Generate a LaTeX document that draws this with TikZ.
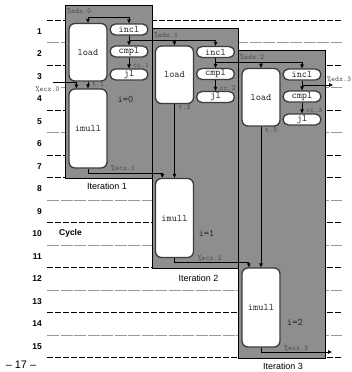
\documentclass[tikz,border=0pt]{standalone}
\usepackage{fontspec}
\setmainfont{Liberation Sans}
\usetikzlibrary{arrows.meta}
\definecolor{boxgray}{HTML}{8E8E8E}
\definecolor{edgegray}{HTML}{3C3C3C}
\newcommand\opfont{\ttfamily\fontsize{10}{11}\selectfont}
\newcommand\regfont{\ttfamily\fontsize{7.5}{8}\selectfont}
\newcommand\cycfont{\bfseries\fontsize{8.5}{10}\selectfont}
\newcommand\iterfont{\fontsize{9}{10}\selectfont}
\newcommand\pagefont{\fontsize{11}{12}\selectfont}
\tikzset{
  iterbox/.style={draw=black, line width=0.8bp, fill=boxgray, inner sep=0pt, anchor=north west},
  opbox/.style={draw=edgegray, line width=1.3bp, fill=white, rounded corners=6bp, minimum width=38bp, inner sep=0pt, font=\opfont, text=black!85},
  pill/.style={opbox, rounded corners=5.5bp, minimum height=11bp},
  conn/.style={line width=0.8bp, -{Triangle[length=4bp,width=3.5bp]}},
  reg/.style={font=\regfont, text=black!70, inner sep=0pt, anchor=west},
  cyc/.style={font=\cycfont, anchor=east, inner sep=0pt},
  gridA/.style={line width=0.6bp, dash pattern=on 6bp off 2bp},
  gridB/.style={line width=0.6bp, draw=black!40, dash pattern=on 12bp off 1.5bp},
}
\begin{document}
\begin{tikzpicture}[x=1bp,y=-1bp]
\useasboundingbox (0,0) rectangle (352,372);
% cycle grid
\foreach \k in {0,2,4,6,7,9,11,13,15}{\pgfmathsetmacro\yy{20+22.5*\k}\draw[gridA] (47,\yy) -- (342,\yy);}
\foreach \k in {1,3,5,8,10,12,14}{\pgfmathsetmacro\yy{20+22.5*\k}\draw[gridB] (47,\yy) -- (342,\yy);}
\foreach \n in {1,...,15}{\pgfmathsetmacro\yy{8.75+22.5*\n}\node[cyc] (cyc\n) at (42,\yy) {\n};}
\node[font=\cycfont, anchor=west, inner sep=0pt] (cyclbl) at (59,233.75) {Cycle};
\node[font=\pagefont, inner sep=0pt] (page) at (21,365) {– 17 –};
% iteration boxes
\node[iterbox, minimum width=86.5bp, minimum height=172.5bp] (it1) at (65,5) {};
\node[iterbox, minimum width=86.5bp, minimum height=240bp] (it2) at (151.5,27.5) {};
\node[iterbox, minimum width=86.5bp, minimum height=307.5bp] (it3) at (238,50) {};
\node[font=\iterfont] (itl1) at (107,186) {Iteration 1};
\node[font=\iterfont] (itl2) at (198.5,278) {Iteration 2};
\node[font=\iterfont] (itl3) at (283,366) {Iteration 3};
% operations, iteration 1
\node[opbox, minimum height=57.5bp] (load1) at (88,52.25) {load};
\node[pill] (incl1) at (129,29.5) {incl};
\node[pill] (cmpl1) at (129,51.5) {cmpl};
\node[pill] (jl1) at (129,74.5) {jl};
\node[opbox, minimum height=79bp] (imull1) at (88,128.5) {imull};
% iteration 2
\node[opbox, minimum height=57.5bp] (load2) at (174.5,74.75) {load};
\node[pill] (incl2) at (215.5,52) {incl};
\node[pill] (cmpl2) at (215.5,74) {cmpl};
\node[pill] (jl2) at (215.5,97) {jl};
\node[opbox, minimum height=79bp] (imull2) at (174.5,218) {imull};
% iteration 3
\node[opbox, minimum height=57.5bp] (load3) at (261,97.25) {load};
\node[pill] (incl3) at (302,74.5) {incl};
\node[pill] (cmpl3) at (302,96.5) {cmpl};
\node[pill] (jl3) at (302,119.5) {jl};
\node[opbox, minimum height=79bp] (imull3) at (261,307.5) {imull};
% i labels
\node[font=\opfont, text=black!85] (i0) at (125.5,99.5) {i=0};
\node[font=\opfont, text=black!85] (i1) at (206.5,233) {i=1};
\node[font=\opfont, text=black!85] (i2) at (295,322) {i=2};
% edx chain
\coordinate (edx0) at (88,17.5);
\coordinate (edx1) at (129,40);
\coordinate (edx2) at (215.5,62.5);
\coordinate (edx3) at (302,85);
\coordinate (edxout) at (333,85);
\draw[conn] (edx0) -- (load1.north);
\draw[conn] (edx0) -| (incl1.north);
\draw[conn] (incl1.south) -- (cmpl1.north);
\draw[conn] (edx1) -| (load2.north);
\draw[conn] (edx1) -| (incl2.north);
\draw[conn] (incl2.south) -- (cmpl2.north);
\draw[conn] (edx2) -| (load3.north);
\draw[conn] (edx2) -| (incl3.north);
\draw[conn] (incl3.south) -- (cmpl3.north);
\draw[conn] (edx3) -- (edxout);
% cmpl -> jl
\draw[conn] (cmpl1.south) -- (jl1.north);
\draw[conn] (cmpl2.south) -- (jl2.north);
\draw[conn] (cmpl3.south) -- (jl3.north);
% load -> imull
\draw[conn] (load1.south) -- (imull1.north);
\draw[conn] (load2.south) -- (imull2.north);
\draw[conn] (load3.south) -- (imull3.north);
% ecx chain
\coordinate (ecx0) at (53,82);
\coordinate (ecxout) at (332,352);
\draw[conn] (ecx0) -| ([xshift=8bp]imull1.north west);
\draw[conn] (imull1.south) -- ++(0,4.5) -| ([xshift=7.5bp]imull2.north west);
\draw[conn] (imull2.south) -- ++(0,4.5) -| ([xshift=7.5bp]imull3.north west);
\draw[conn] (imull3.south) |- (ecxout);
% register labels
\node[reg] (ledx0) at (67,11.5) {\%edx.0};
\node[reg] (ledx1) at (154,35) {\%edx.1};
\node[reg] (ledx2) at (240,57.5) {\%edx.2};
\node[reg] (ledx3) at (327,79) {\%edx.3};
\node[reg] (lcc1) at (133,65.5) {cc.1};
\node[reg] (lcc2) at (219.5,88) {cc.2};
\node[reg] (lcc3) at (306,110.5) {cc.3};
\node[reg] (lt1) at (92,84.5) {t.1};
\node[reg] (lt2) at (178.5,107.5) {t.2};
\node[reg] (lt3) at (265,130) {t.3};
\node[reg, fill=white, inner sep=0.5bp] (lecx0) at (35,89) {\%ecx.0};
\node[reg] (lecx1) at (111,168.5) {\%ecx.1};
\node[reg] (lecx2) at (197.5,258) {\%ecx.2};
\node[reg] (lecx3) at (284,348) {\%ecx.3};
\end{tikzpicture}
\end{document}
